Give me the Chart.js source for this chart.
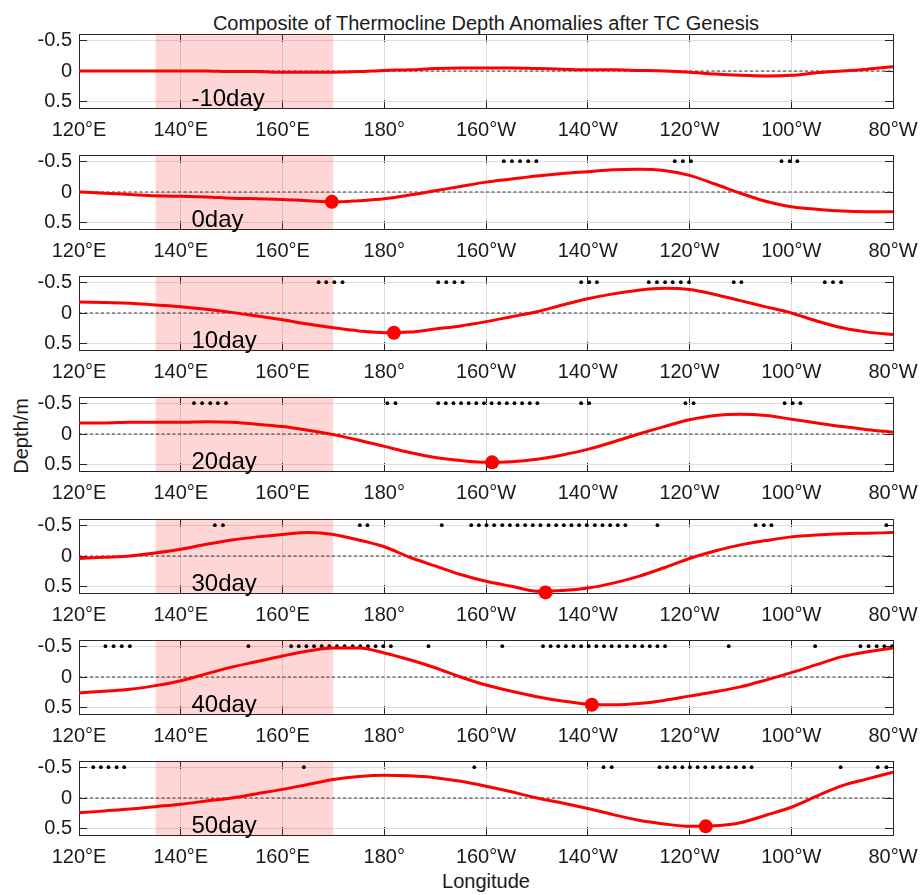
<!DOCTYPE html>
<html>
<head>
<meta charset="utf-8">
<script src="https://cdn.jsdelivr.net/npm/chart.js@4.4.1/dist/chart.umd.min.js"></script>
<style>
    html, body { margin: 0; padding: 0; background: #fff; }
    #wrap { position: relative; width: 921px; height: 895px; font-family: "Liberation Sans", Arial, sans-serif; color: #1a1a1a; }
    #wrap canvas { position: absolute; left: 0; }
    .txt { position: absolute; font-size: 20px; line-height: 20px; white-space: nowrap; }
</style>
</head>
<body>
<div id="wrap">
    <div class="txt" style="left:486px; top:13px; transform:translateX(-50%);">Composite of Thermocline Depth Anomalies after TC Genesis</div>
    <div class="txt" style="left:21px; top:436px; transform:translate(-50%,-50%) rotate(-90deg);">Depth/m</div>
    <div class="txt" style="left:486px; top:871px; transform:translateX(-50%);">Longitude</div>
</div>
<script>
// longitude in degrees east (120E .. 80W = 280)
const lons = [120, 125, 130, 135, 140, 145, 150, 155, 160, 165, 170, 175, 180, 185, 190, 195, 200,
    205, 210, 215, 220, 225, 230, 235, 240, 245, 250, 255, 260, 265, 270, 275, 280];

const depthM10 = [0, 0, 0, 0, 0, 0, 0.01, 0.01, 0.02, 0.02, 0.02, 0.01, -0.01, -0.02, -0.04, -0.05, -0.05,
    -0.05, -0.04, -0.03, -0.02, -0.02, -0.01, 0, 0.02, 0.05, 0.07, 0.08, 0.07, 0.03, 0, -0.03, -0.07];
const depth0 = [0, 0.02, 0.04, 0.06, 0.07, 0.08, 0.1, 0.11, 0.12, 0.14, 0.16, 0.14, 0.11, 0.05, -0.02, -0.09, -0.16,
    -0.21, -0.26, -0.3, -0.33, -0.36, -0.37, -0.35, -0.27, -0.13, 0.02, 0.15, 0.24, 0.28, 0.31, 0.32, 0.32];
const depth10 = [-0.18, -0.17, -0.16, -0.13, -0.1, -0.06, -0.01, 0.05, 0.11, 0.18, 0.24, 0.29, 0.32, 0.31, 0.26, 0.21, 0.14,
    0.06, -0.02, -0.13, -0.23, -0.31, -0.37, -0.4, -0.38, -0.3, -0.2, -0.1, 0, 0.13, 0.24, 0.31, 0.35];
const depth20 = [-0.18, -0.18, -0.19, -0.19, -0.19, -0.2, -0.19, -0.16, -0.12, -0.06, 0.01, 0.1, 0.2, 0.3, 0.38, 0.43, 0.46,
    0.45, 0.41, 0.34, 0.25, 0.13, 0, -0.12, -0.23, -0.3, -0.32, -0.3, -0.24, -0.18, -0.12, -0.07, -0.03];
const depth30 = [0.04, 0.02, 0, -0.05, -0.11, -0.19, -0.26, -0.31, -0.35, -0.38, -0.35, -0.26, -0.15, 0.02, 0.16, 0.3, 0.41,
    0.49, 0.57, 0.56, 0.52, 0.44, 0.33, 0.19, 0.04, -0.08, -0.18, -0.25, -0.31, -0.34, -0.36, -0.37, -0.38];
const depth40 = [0.26, 0.23, 0.2, 0.14, 0.06, -0.05, -0.16, -0.25, -0.34, -0.42, -0.47, -0.47, -0.39, -0.28, -0.15, 0, 0.13,
    0.23, 0.32, 0.39, 0.44, 0.45, 0.43, 0.38, 0.31, 0.24, 0.16, 0.05, -0.07, -0.2, -0.33, -0.41, -0.47];
const depth50 = [0.24, 0.21, 0.18, 0.14, 0.1, 0.05, 0, -0.07, -0.14, -0.22, -0.3, -0.35, -0.37, -0.36, -0.33, -0.27, -0.19,
    -0.1, 0, 0.08, 0.17, 0.27, 0.36, 0.42, 0.46, 0.45, 0.4, 0.28, 0.15, -0.03, -0.2, -0.31, -0.42];

// significant longitudes (drawn as dots along the -0.5 line)
const sigM10 = [];
const sig0 = [203.5, 205.1, 206.7, 208.3, 209.9, 237.1, 238.7, 240.3, 258.1, 259.7, 261.2];
const sig10 = [167.1, 168.6, 170.2, 171.8, 190.6, 192.2, 193.8, 195.4, 218.7, 220.3, 221.8,
    232.0, 233.6, 235.2, 236.7, 238.3, 239.9, 248.7, 250.2, 266.6, 268.2, 269.8];
const sig20 = [142.6, 144.2, 145.8, 147.3, 148.9, 180.6, 182.2, 190.6, 192.1, 193.6, 195.1, 196.6, 198.1, 199.6,
    201.1, 202.6, 204.1, 205.6, 207.1, 208.6, 210.1, 218.7, 220.3, 239.2, 240.8, 258.7, 260.3, 261.8];
const sig30 = [146.7, 148.3, 175.2, 176.7, 191.3, 197.1, 198.6, 200.1, 201.6, 203.2, 204.7, 206.2, 207.7, 209.2,
    210.7, 212.3, 213.8, 215.3, 216.8, 218.3, 219.8, 221.4, 222.9, 224.4, 225.9, 227.4, 233.7, 253.0, 254.6, 256.1, 278.7];
const sig40 = [125.2, 126.8, 128.4, 130.0, 153.3, 161.7, 163.2, 164.7, 166.2, 167.7, 169.2, 170.7, 172.2, 173.8,
    175.3, 176.8, 178.3, 179.8, 181.3, 188.7, 203.2, 211.2, 212.7, 214.2, 215.7, 217.2, 218.7, 220.2, 221.7,
    223.2, 224.7, 226.2, 227.7, 229.2, 230.7, 232.2, 233.7, 235.2, 247.7, 264.7, 273.6, 275.2, 276.8, 278.3, 279.8];
const sig50 = [122.8, 124.3, 125.8, 127.4, 128.9, 164.2, 197.7, 223.1, 224.7, 234.1, 235.6, 237.1, 238.6, 240.1,
    241.6, 243.1, 244.6, 246.1, 247.6, 249.1, 250.7, 252.2, 269.7, 277.0, 278.7];

const dayLabels = ['-10day', '0day', '10day', '20day', '30day', '40day', '50day'];
const peakLon = [null, 169.7, 181.9, 201.2, 211.7, 220.8, 243.2];
const peakDepth = [null, 0.16, 0.32, 0.46, 0.59, 0.45, 0.46];

const xTicks = [120, 140, 160, 180, 200, 220, 240, 260, 280];
const xTickLabels = ['120°E', '140°E', '160°E', '180°', '160°W', '140°W', '120°W', '100°W', '80°W'];
const yTicks = [-0.5, 0, 0.5];
const yTickLabels = ['-0.5', '0', '0.5'];
const shadeFrom = 135, shadeTo = 170;
const sigDepth = -0.5;
const labelLon = 142.1, labelDepth = 0.56;

const depthSets = [depthM10, depth0, depth10, depth20, depth30, depth40, depth50];
const sigSets = [sigM10, sig0, sig10, sig20, sig30, sig40, sig50];

const panelTops = [34, 155, 276, 397, 519, 640, 761];
const font = '"Liberation Sans", Arial, sans-serif';
const axisColor = '#262626';
const gridColor = '#dedede';

const dayLabel = {
    id: 'dayLabel',
    afterDatasetsDraw(chart, args, opts) {
        const {ctx, scales: {x, y}} = chart;
        ctx.save();
        ctx.font = '24px ' + font;
        ctx.fillStyle = '#000';
        ctx.textAlign = 'left';
        ctx.textBaseline = 'alphabetic';
        ctx.fillText(opts.text, x.getPixelForValue(labelLon), y.getPixelForValue(labelDepth));
        ctx.restore();
    }
};

function fixTicks(values) {
    return (scale) => { scale.ticks = values.map(v => ({value: v})); };
}

function fitSize(w, h) {
    return (scale) => {
        if (w !== null) scale.width = w;
        if (h !== null) scale.height = h;
        scale.paddingLeft = 0; scale.paddingRight = 0;
        scale.paddingTop = 0; scale.paddingBottom = 0;
    };
}

function addPanel(k) {
    const wrap = document.getElementById('wrap');
    const canvas = document.createElement('canvas');
    canvas.width = 921;
    canvas.height = 121;
    canvas.style.top = (panelTops[k] - 8) + 'px';
    wrap.appendChild(canvas);

    const datasets = [
        {
            // shaded genesis region
            data: [{x: shadeFrom, y: -0.6}, {x: shadeTo, y: -0.6}],
            borderWidth: 0,
            pointRadius: 0,
            fill: {value: 0.6},
            backgroundColor: 'rgba(255, 0, 0, 0.16)',
            order: 5
        },
        {
            data: [{x: 120, y: 0}, {x: 280, y: 0}],
            borderColor: '#333',
            borderWidth: 1,
            borderDash: [3, 2.5],
            pointRadius: 0,
            fill: false,
            order: 4
        },
        {
            data: sigSets[k].map(v => ({x: v, y: sigDepth})),
            showLine: false,
            pointRadius: 1.9,
            pointBackgroundColor: '#000',
            pointBorderWidth: 0,
            clip: false,
            order: 3
        },
        {
            data: lons.map((v, i) => ({x: v, y: depthSets[k][i]})),
            borderColor: '#ff0000',
            borderWidth: 3,
            pointRadius: 0,
            cubicInterpolationMode: 'monotone',
            fill: false,
            order: 2
        }
    ];
    if (peakLon[k] !== null) {
        datasets.push({
            data: [{x: peakLon[k], y: peakDepth[k]}],
            showLine: false,
            pointRadius: 7,
            pointBackgroundColor: '#ff0000',
            pointBorderWidth: 0,
            clip: false,
            order: 1
        });
    }

    const options = {
        responsive: false,
        animation: false,
        events: [],
        layout: {padding: {top: 8, right: 28, left: 0, bottom: 0}},
        plugins: {
            legend: {display: false},
            tooltip: {enabled: false},
            dayLabel: {text: dayLabels[k]}
        },
        scales: {
            x: {
                type: 'linear', position: 'bottom', min: 120, max: 280,
                afterBuildTicks: fixTicks(xTicks),
                afterFit: fitSize(null, 39),
                grid: {color: gridColor, tickColor: axisColor, tickLength: -8},
                border: {display: true, color: axisColor, width: 1},
                ticks: {
                    padding: 18,
                    maxRotation: 0,
                    autoSkip: false,
                    color: '#1a1a1a',
                    font: {family: font, size: 20},
                    callback: (val) => xTickLabels[xTicks.indexOf(val)]
                }
            },
            x2: {
                type: 'linear', position: 'top', min: 120, max: 280,
                afterBuildTicks: fixTicks(xTicks),
                afterFit: fitSize(null, 0),
                grid: {drawOnChartArea: false, tickColor: axisColor, tickLength: -8},
                border: {display: true, color: axisColor, width: 1},
                ticks: {display: false}
            },
            y: {
                type: 'linear', position: 'left', min: -0.6, max: 0.6, reverse: true,
                afterBuildTicks: fixTicks(yTicks),
                afterFit: fitSize(79, null),
                grid: {color: gridColor, tickColor: axisColor, tickLength: -8},
                border: {display: true, color: axisColor, width: 1},
                ticks: {
                    padding: 15,
                    color: '#1a1a1a',
                    font: {family: font, size: 20},
                    callback: (val) => yTickLabels[yTicks.indexOf(val)]
                }
            },
            y2: {
                type: 'linear', position: 'right', min: -0.6, max: 0.6, reverse: true,
                afterBuildTicks: fixTicks(yTicks),
                afterFit: fitSize(0, null),
                grid: {drawOnChartArea: false, tickColor: axisColor, tickLength: -8},
                border: {display: true, color: axisColor, width: 1},
                ticks: {display: false}
            }
        }
    };

    new Chart(canvas, {
        type: 'line',
        data: {datasets: datasets},
        options: options,
        plugins: [dayLabel]
    });
}

for (let k = 0; k < dayLabels.length; k++) {
    addPanel(k);
}
</script>
</body>
</html>
